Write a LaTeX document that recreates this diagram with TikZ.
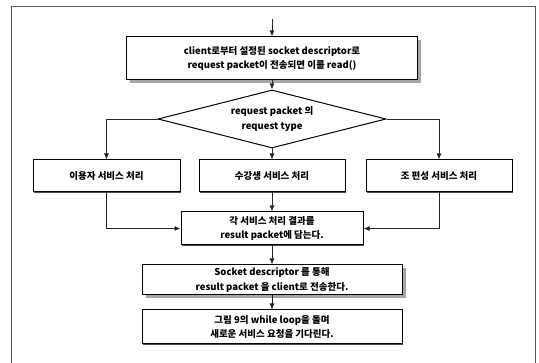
\documentclass[tikz,border=0pt]{standalone}
\usepackage{fontspec}
\setmainfont{Noto Sans CJK KR}
\usetikzlibrary{arrows.meta,shapes.geometric,shadows}
\begin{document}
\begin{tikzpicture}[x=1pt,y=-1pt,
  txt/.style={font=\bfseries\fontsize{9.5}{14.5}\selectfont},
  box/.style={txt,draw=black,line width=1pt,fill=white,inner sep=0pt,align=center},
  thinshadow/.style={drop shadow={shadow xshift=1.2pt,shadow yshift=-1.2pt,fill=black!70,opacity=1}},
  grayshadow/.style={drop shadow={shadow xshift=3.5pt,shadow yshift=-3.5pt,fill=black!35,opacity=1}},
  decision/.style={txt,diamond,aspect=4,draw=black,line width=1pt,fill=white,inner sep=0pt,align=center,
    minimum width=228pt,minimum height=58pt},
  arr/.style={draw=black!85,line width=0.9pt,-{Latex[length=6pt,width=5pt]}},
  frame/.style={draw=black!65,line width=1pt}]
  \useasboundingbox (0,0) rectangle (539,363);

  % open frame around the chart
  \draw[frame] (11,363) -- (11,7) -- (535,7) -- (535,363);

  % nodes
  \node[box,grayshadow,minimum width=291pt,minimum height=43pt] (read) at (272,58.5)
    {client로부터 설정된 socket descriptor로\\request packet이 전송되면 이를 read()};
  \node[decision] (type) at (272,119) {request packet 의\\request type};
  \node[box,thinshadow,minimum width=147pt,minimum height=32pt] (user) at (106.5,176) {이용자 서비스 처리};
  \node[box,thinshadow,minimum width=146pt,minimum height=32pt] (stud) at (272,176) {수강생 서비스 처리};
  \node[box,thinshadow,minimum width=146pt,minimum height=32pt] (team) at (439,176) {조 편성 서비스 처리};
  \node[box,thinshadow,minimum width=182pt,minimum height=33pt] (result) at (272,228.5)
    {각 서비스 처리 결과를\\result packet에 담는다.};
  \node[box,grayshadow,minimum width=260pt,minimum height=30pt] (send) at (272,280)
    {Socket descriptor 를 통해\\result packet 을 client로 전송한다.};
  \node[box,thinshadow,minimum width=260pt,minimum height=34pt] (wait) at (272,327)
    {그림 9의 while loop을 돌며\\새로운 서비스 요청을 기다린다.};

  \coordinate (start) at (272,19);

  % connectors
  \draw[arr] (start) -- (read.north);
  \draw[arr] (read.south) -- (type.north);
  \draw[arr] (type.west) -| (user.north);
  \draw[arr] (type.south) -- (stud.north);
  \draw[arr] (type.east) -| (team.north);
  \draw[arr] (user.south) |- (result.west);
  \draw[arr] (stud.south) -- (result.north);
  \draw[arr] (team.south) |- (result.east);
  \draw[arr] (result.south) -- (send.north);
  \draw[arr] (send.south) -- (wait.north);
\end{tikzpicture}
\end{document}
